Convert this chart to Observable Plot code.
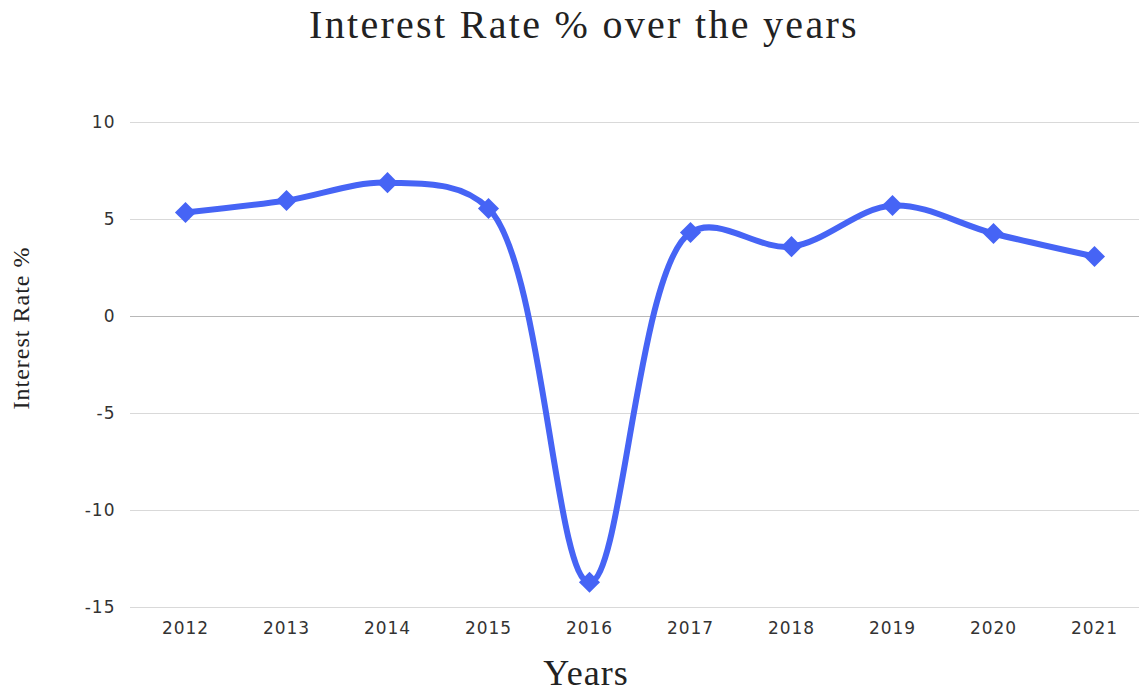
<!DOCTYPE html>
<html>
<head>
<meta charset="utf-8">
<script src="https://cdn.jsdelivr.net/npm/d3@7"></script>
<script src="https://cdn.jsdelivr.net/npm/@observablehq/plot@0.6"></script>
<style>
  html, body { margin: 0; padding: 0; background: #fff; overflow: hidden; }
  #title { width: 1139px; height: 60px; box-sizing: border-box; padding-left: 29px; padding-top: 5px; text-align: center;
    font-family: "Liberation Serif", "DejaVu Serif", serif; font-size: 40px; line-height: 40px; letter-spacing: 2.3px; color: #222; }
  #chart svg { display: block; max-width: none !important; }
</style>
</head>
<body>
<div id="title">Interest Rate % over the years</div>
<div id="chart"></div>
<script>
const years = ["2012","2013","2014","2015","2016","2017","2018","2019","2020","2021"];
const rates = [5.36, 5.98, 6.9, 5.57, -13.7, 4.33, 3.6, 5.72, 4.28, 3.09];
const yTicks = [10, 5, 0, -5, -10, -15];
const yLabel = "Interest Rate %";
const xLabel = "Years";

const data = years.map((y, i) => ({year: y, rate: rates[i]}));
const blue = "#4664f5";
const serif = "Liberation Serif, DejaVu Serif, serif";

const plot = Plot.plot({
  width: 1139,
  height: 638,
  marginTop: 62,
  marginBottom: 91,
  marginLeft: 130,
  marginRight: 0,
  style: {background: "#fff", fontFamily: "DejaVu Sans, sans-serif", fontSize: "17px", color: "#333", letterSpacing: "1px"},
  x: {type: "point", domain: years, range: [181, 1098], padding: 0, label: null},
  y: {domain: [-15, 10], ticks: yTicks, label: null},
  marks: [
    Plot.gridY(yTicks.filter(d => d !== 0), {stroke: "#d9d9d9", strokeOpacity: 1, strokeWidth: 1}),
    Plot.ruleY([0], {stroke: "#b8b8b8", strokeWidth: 1}),
    Plot.axisY(yTicks, {tickSize: 0, tickPadding: 15, fontSize: 17, fill: "#333", label: null, tickFormat: d => String(d)}),
    Plot.axisX(years, {tickSize: 0, tickPadding: 14, fontSize: 17, fill: "#333", label: null}),
    Plot.line(data, {x: "year", y: "rate", stroke: blue, strokeWidth: 6, curve: "catmull-rom"}),
    Plot.dot(data, {x: "year", y: "rate", symbol: "diamond2", r: 9.5, fill: blue, stroke: "none"}),
    Plot.text([yLabel], {frameAnchor: "left", textAnchor: "middle", dx: -109, dy: -37, rotate: -90, fontSize: 24,
      fontFamily: serif, fill: "#222", letterSpacing: "0.3px"}),
    Plot.text([xLabel], {frameAnchor: "bottom", dx: -49, dy: 77, fontSize: 36,
      fontFamily: serif, fill: "#222", letterSpacing: "5px"})
  ]
});
document.getElementById("chart").appendChild(plot);
</script>
</body>
</html>
